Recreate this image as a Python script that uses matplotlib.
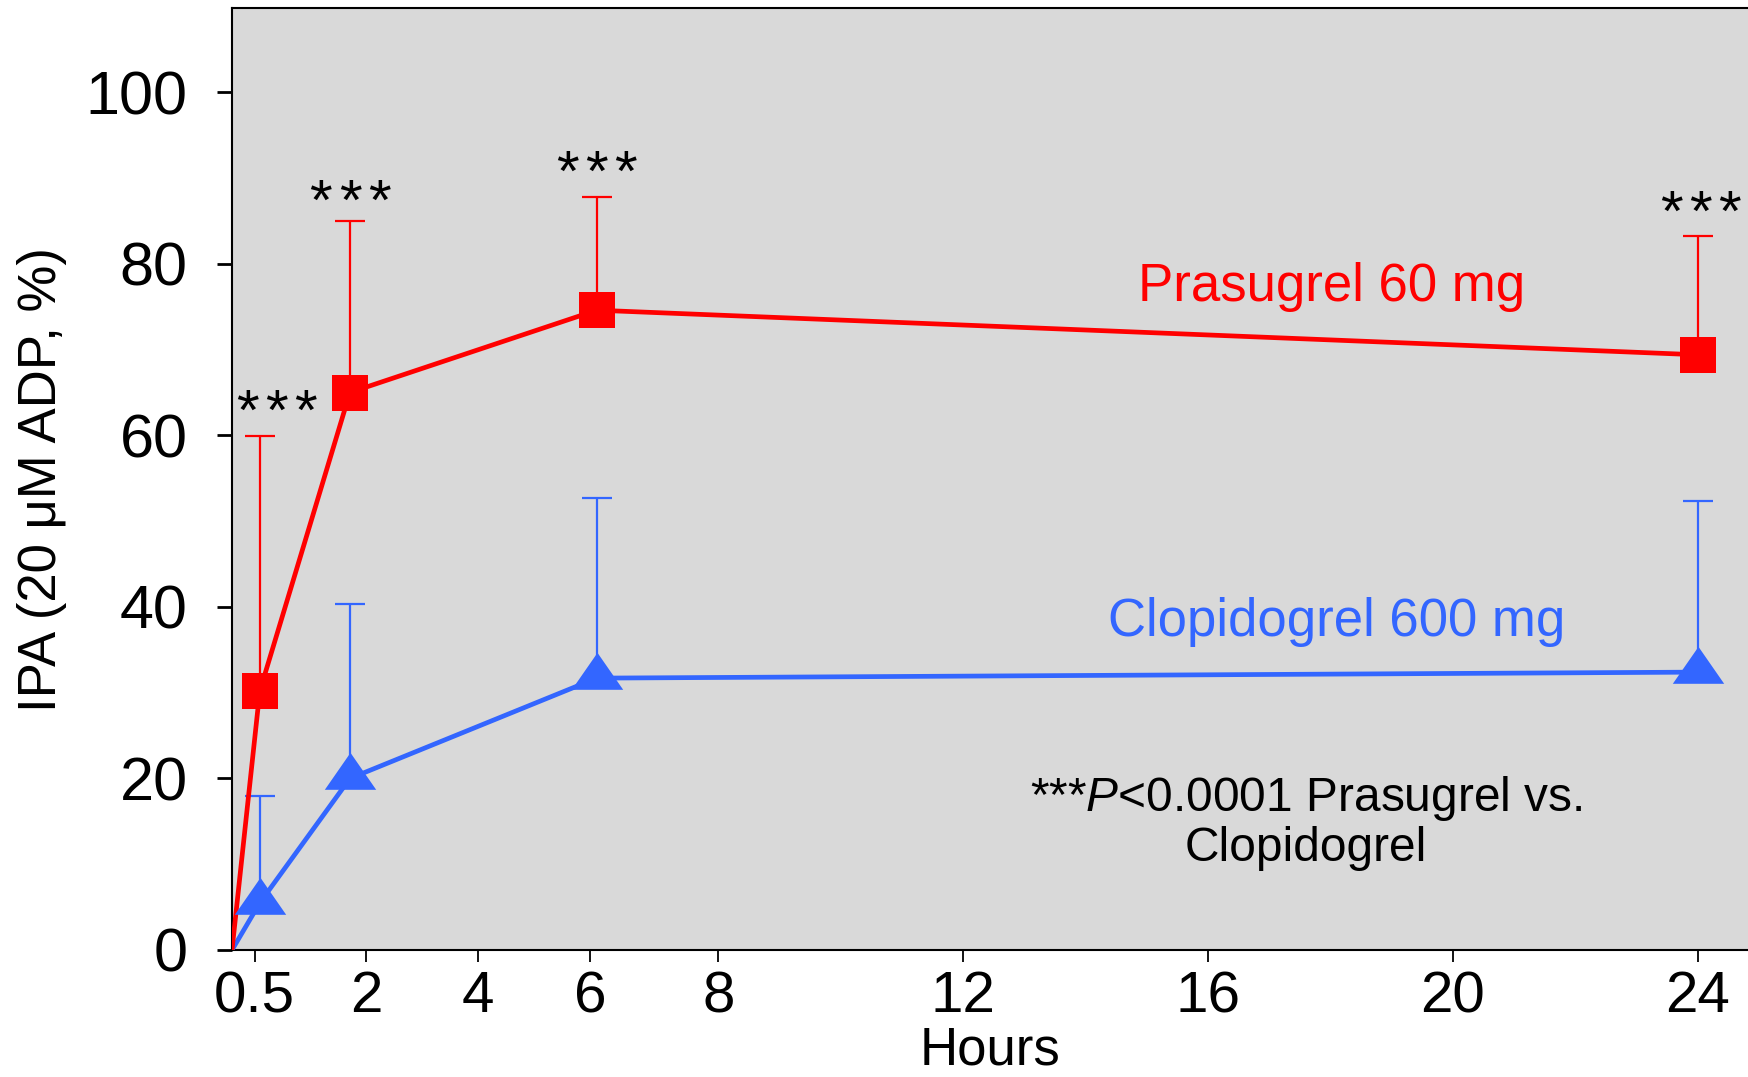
import matplotlib
matplotlib.use("Agg")
import matplotlib.pyplot as plt
import numpy as np

plt.rcParams['font.family'] = ['Liberation Sans', 'DejaVu Sans']
plt.rcParams['mathtext.fontset'] = 'custom'
plt.rcParams['mathtext.rm'] = 'Liberation Sans'
plt.rcParams['mathtext.it'] = 'Liberation Sans:italic'

# data
hours = [0, 0.57, 1.78, 6.1, 24]
prasugrel = [0, 30.2, 65.0, 74.6, 69.4]
prasugrel_err = [0, 29.7, 20.0, 13.2, 13.9]
clopidogrel = [0, 5.5, 20.0, 31.7, 32.4]
clopidogrel_err = [0, 12.5, 20.4, 21.0, 19.9]

star_hours = [0.79, 1.78, 6.1, 24.04]
star_y = [63.8, 88.4, 91.7, 87.1]

xticks = [0.5, 2, 4, 6, 8, 12, 16, 20, 24]
xtick_labels = ['0.5', '2', '4', '6', '8', '12', '16', '20', '24']
yticks = [0, 20, 40, 60, 80, 100]

RED = '#ff0000'
BLUE = '#3366ff'

# the original time axis is not linear: piecewise mapping of hours
scale_h = [0, 0.5, 2, 4, 6, 8, 12, 16, 20, 24, 26]
scale_p = [232, 254.6, 366.3, 478, 590.3, 718.4, 963.3, 1208.3, 1452.7, 1697.7, 1820.1]

def fwd(x):
    return np.interp(x, scale_h, scale_p)

def inv(p):
    return np.interp(p, scale_p, scale_h)

fig = plt.figure(figsize=(17.48, 10.77), dpi=100)
ax = fig.add_axes([232/1748, 127/1077, 1516/1748, (950-8.3)/1077])
ax.set_facecolor('#d9d9d9')
ax.set_xscale('function', functions=(fwd, inv))

# upward only error bars
zeros = [0]*len(hours)
ax.errorbar(hours[1:], prasugrel[1:], yerr=[zeros[1:], prasugrel_err[1:]], fmt='none',
            ecolor=RED, elinewidth=1.6, capsize=10.5, capthick=1.6, zorder=2)
ax.errorbar(hours[1:], clopidogrel[1:], yerr=[zeros[1:], clopidogrel_err[1:]], fmt='none',
            ecolor=BLUE, elinewidth=1.6, capsize=10.5, capthick=1.6, zorder=2)

tri = [(0, 1), (-1, -0.44), (1, -0.44), (0, 1)]
ax.plot(hours, clopidogrel, color=BLUE, lw=3.4, zorder=3)
ax.plot(hours[1:], clopidogrel[1:], ls='none', marker=tri, ms=37, color=BLUE, mew=0, zorder=4)
ax.plot(hours, prasugrel, color=RED, lw=3.4, zorder=3)
ax.plot(hours[1:], prasugrel[1:], ls='none', marker='s', ms=26, color=RED, mew=0, zorder=4)

# significance stars, one glyph at a time so the spacing matches
for sx, sy in zip(star_hours, star_y):
    for dx in (-21, 0, 21):
        ax.annotate('*', (sx, sy - 3.2), xytext=(dx, 0), textcoords='offset points',
                    ha='center', va='baseline', fontsize=42)

ax.text(18.02, 75.7, 'Prasugrel 60 mg', color=RED, fontsize=38, ha='center', va='baseline')
ax.text(18.1, 36.6, 'Clopidogrel 600 mg', color=BLUE, fontsize=38, ha='center', va='baseline')
ax.text(17.6, 16.2, r'***$\mathit{P}$<0.0001 Prasugrel vs.', fontsize=34.5, ha='center', va='baseline')
ax.text(17.6, 10.4, 'Clopidogrel', fontsize=34.5, ha='center', va='baseline')

ax.set_xlim(0, 24.82)
ax.set_ylim(0, 109.8)
ax.set_xticks(xticks)
ax.set_xticklabels(xtick_labels)
ax.set_yticks(yticks)
ax.tick_params(axis='x', direction='out', length=8.6, width=1.3, pad=6, labelsize=42)
ax.tick_params(axis='y', direction='out', length=11, width=2, pad=21, labelsize=44)
ax.spines['right'].set_visible(False)
for s in ['left', 'top', 'bottom']:
    ax.spines[s].set_linewidth(1.5)

ax.set_xlabel('Hours', fontsize=38, labelpad=1)
ax.set_ylabel('IPA (20 μM ADP, %)', fontsize=38, va='center')
ax.yaxis.set_label_coords(-(232-42)/1516, 0.5)

fig.savefig('out.png', dpi=100)
